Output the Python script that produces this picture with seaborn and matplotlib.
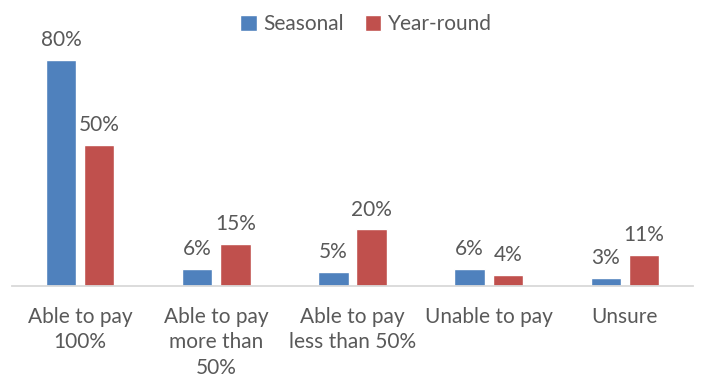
import matplotlib
matplotlib.use("Agg")
import matplotlib.pyplot as plt
import seaborn as sns
import pandas as pd

categories = ["Able to pay\n100%", "Able to pay\nmore than\n50%", "Able to pay\nless than 50%",
              "Unable to pay", "Unsure"]
seasonal = [80, 6, 5, 6, 3]
year_round = [50, 15, 20, 4, 11]
series_names = ["Seasonal", "Year-round"]
colors = ["#4F81BD", "#C0504D"]

df = pd.DataFrame({
    "category": categories * 2,
    "series": [series_names[0]] * len(categories) + [series_names[1]] * len(categories),
    "value": seasonal + year_round,
})

sns.set_theme(style="white")
plt.rcParams["font.family"] = ["Lato", "DejaVu Sans"]
text_color = "#595959"

fig = plt.figure(figsize=(7.01, 3.75), dpi=100)
ax = fig.add_axes([12 / 701, 89 / 375, 681 / 701, 0.6781])

sns.barplot(data=df, x="category", y="value", hue="series", palette=colors,
            width=0.56, gap=0.2, ax=ax, saturation=1, legend=True)

ax.set_ylim(0, 90)
ax.set_xlim(-0.5, 4.5)
ax.set_xlabel("")
ax.set_ylabel("")
ax.set_yticks([])
for side in ["top", "right", "left"]:
    ax.spines[side].set_visible(False)
ax.spines["bottom"].set_color("#D9D9D9")
ax.spines["bottom"].set_linewidth(1.3)
ax.tick_params(axis="x", length=0, pad=15, labelsize=15, labelcolor=text_color)
for lbl in ax.get_xticklabels():
    lbl.set_linespacing(1.35)
    lbl.set_verticalalignment("top")

for container in ax.containers:
    ax.bar_label(container, labels=[f"{v:.0f}%" for v in container.datavalues],
                 padding=7, fontsize=15, color=text_color)

ax.legend(loc="upper center", bbox_to_anchor=(354 / 681, 1.0 + 26 / 254), ncol=2,
          frameon=False, fontsize=15, labelcolor=text_color, handlelength=0.8,
          handleheight=0.8, handletextpad=0.3, columnspacing=1.0, borderaxespad=0)

fig.savefig("out.png", dpi=100)
